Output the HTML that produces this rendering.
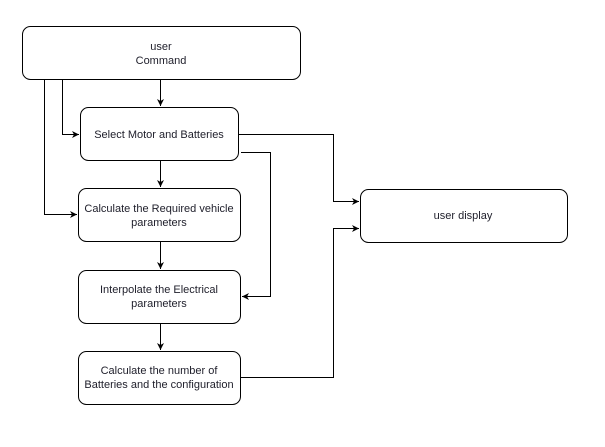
<!DOCTYPE html>
<html><head><style>body{margin:0;background:#fff}</style></head><body>
<svg width="605" height="442" xmlns="http://www.w3.org/2000/svg" font-family="Liberation Sans, sans-serif" font-size="11" fill="#1e1e2a">
<defs><marker id="a" markerWidth="8" markerHeight="8" refX="7" refY="4" orient="auto" markerUnits="userSpaceOnUse"><path d="M0,0.5 L7,4 L0,7.5 L2,4 Z" fill="#000"/></marker></defs>
<g fill="none" stroke="#000" stroke-width="1">
<rect x="22.5" y="26.5" width="278" height="53" rx="8"/>
<rect x="80.5" y="107.5" width="158" height="53" rx="8"/>
<rect x="78.5" y="188.5" width="162" height="53" rx="8"/>
<rect x="78.5" y="270.5" width="162" height="53" rx="8"/>
<rect x="78.5" y="351.5" width="162" height="53" rx="8"/>
<rect x="360.5" y="189.5" width="207" height="53" rx="8"/>
<path d="M160.5 80 V106" marker-end="url(#a)"/>
<path d="M160.5 161 V187" marker-end="url(#a)"/>
<path d="M160.5 242 V269" marker-end="url(#a)"/>
<path d="M160.5 324 V350" marker-end="url(#a)"/>
<path d="M62.5 80 V134.5 H79" marker-end="url(#a)"/>
<path d="M44.5 80 V214.5 H77" marker-end="url(#a)"/>
<path d="M239 134.5 H333.5 V201.5 H359" marker-end="url(#a)"/>
<path d="M241 152.5 H270.5 V296.5 H242" marker-end="url(#a)"/>
<path d="M241 377.5 H333.5 V228.5 H359" marker-end="url(#a)"/>
</g>
<g text-anchor="middle">
<text x="161" y="50">user</text>
<text x="161" y="64">Command</text>
<text x="159" y="138">Select Motor and Batteries</text>
<text x="159" y="212">Calculate the Required vehicle</text>
<text x="159" y="226">parameters</text>
<text x="159" y="293">Interpolate the Electrical</text>
<text x="159" y="307">parameters</text>
<text x="159" y="374">Calculate the number of</text>
<text x="159" y="388">Batteries and the configuration</text>
<text x="463" y="219">user display</text>
</g>
</svg>
</body></html>
